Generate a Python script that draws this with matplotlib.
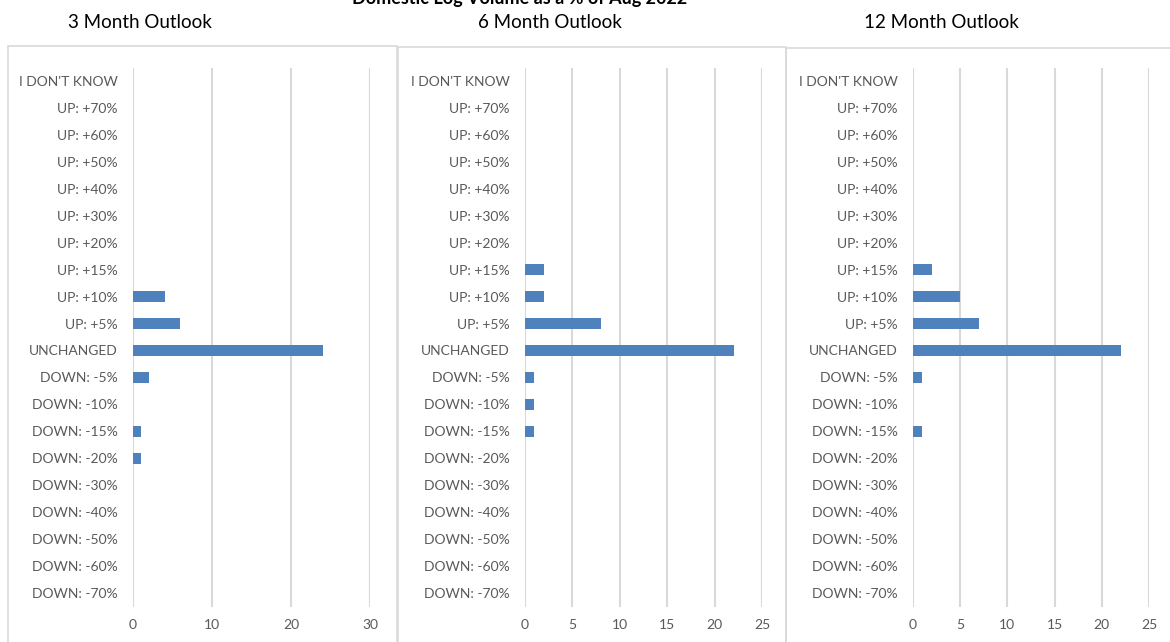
import matplotlib.pyplot as plt
from matplotlib.patches import Rectangle

plt.rcParams['font.family'] = ['Lato', 'DejaVu Sans']

# categories, top to bottom
categories = ["I DON'T KNOW", "UP: +70%", "UP: +60%", "UP: +50%", "UP: +40%",
              "UP: +30%", "UP: +20%", "UP: +15%", "UP: +10%", "UP: +5%",
              "UNCHANGED", "DOWN: -5%", "DOWN: -10%", "DOWN: -15%", "DOWN: -20%",
              "DOWN: -30%", "DOWN: -40%", "DOWN: -50%", "DOWN: -60%", "DOWN: -70%"]

# counts per category for each outlook
outlook_3m = [0, 0, 0, 0, 0, 0, 0, 0, 4, 6, 24, 2, 0, 1, 1, 0, 0, 0, 0, 0]
outlook_6m = [0, 0, 0, 0, 0, 0, 0, 2, 2, 8, 22, 1, 1, 1, 0, 0, 0, 0, 0, 0]
outlook_12m = [0, 0, 0, 0, 0, 0, 0, 2, 5, 7, 22, 1, 0, 1, 0, 0, 0, 0, 0, 0]

titles = ["3 Month Outlook", "6 Month Outlook", "12 Month Outlook"]
xticks_list = [[0, 10, 20, 30], [0, 5, 10, 15, 20, 25], [0, 5, 10, 15, 20, 25]]

W, H = 1170, 642
fig = plt.figure(figsize=(W / 100, H / 100), dpi=100)

bar_color = '#4F81BD'
grid_color = '#D9D9D9'
text_color = '#595959'

# panel boxes (pixels: left, top, right)
boxes = [(8, 46, 397), (398, 47, 786), (786, 48, 1172)]
for l, t, r in boxes:
    fig.add_artist(Rectangle((l / W, -0.05), (r - l) / W, 0.05 + (H - t) / H,
                             transform=fig.transFigure, fill=False,
                             edgecolor=grid_color, linewidth=1.2))

# axes positions in pixels (left, right)
axes_px = [(133, 370), (525, 762), (913, 1149)]
top_px, bot_px = 67.5, 606.5

title_x = [140, 550, 941]
data = [outlook_3m, outlook_6m, outlook_12m]

for i in range(3):
    l, r = axes_px[i]
    ax = fig.add_axes([l / W, 1 - bot_px / H, (r - l) / W, (bot_px - top_px) / H])
    y = range(len(categories))
    ax.barh(y, data[i], height=0.42, color=bar_color, linewidth=0, zorder=3)
    ax.set_ylim(len(categories) - 0.5, -0.5)
    ax.set_xlim(xticks_list[i][0], xticks_list[i][-1])
    ax.set_xticks(xticks_list[i])
    ax.set_yticks(list(y))
    ax.set_yticklabels(categories)
    ax.tick_params(axis='both', length=0, labelsize=10, colors=text_color)
    ax.tick_params(axis='y', pad=11)
    ax.tick_params(axis='x', pad=9)
    ax.grid(axis='x', color=grid_color, linewidth=1.5, zorder=0)
    for s in ax.spines.values():
        s.set_visible(False)
    fig.text(title_x[i] / W, 1 - 22 / H, titles[i], ha='center', va='center',
             fontsize=13.5, color='black')

fig.text(520 / W, 1 - (-2) / H, "Domestic Log Volume as a % of Aug 2022",
         ha='center', va='center', fontsize=13, fontweight='bold', color='black')

fig.savefig('out.png', dpi=100)
